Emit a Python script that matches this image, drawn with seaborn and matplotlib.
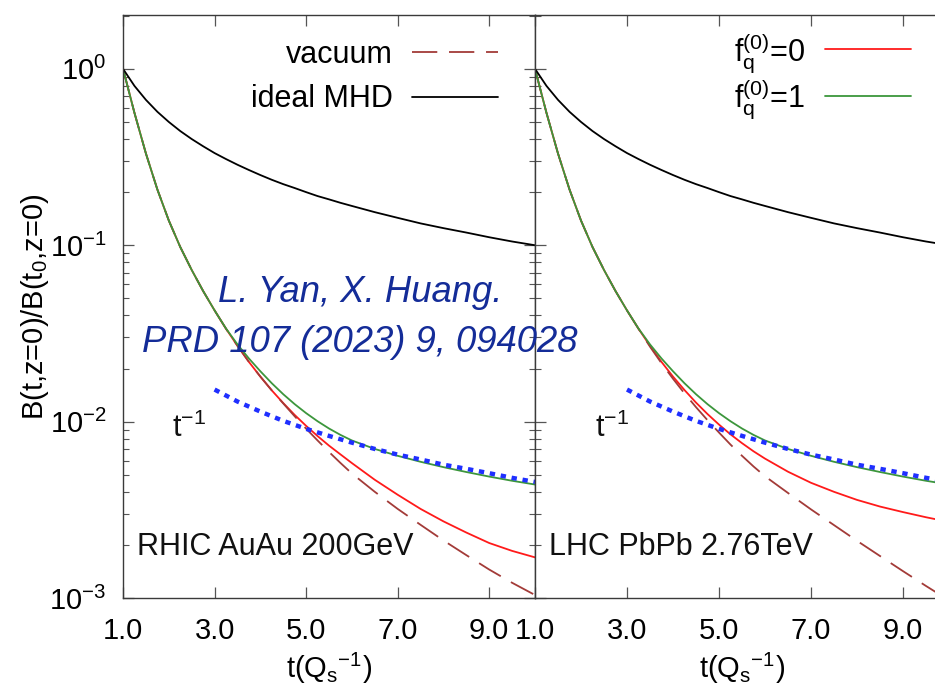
import matplotlib
matplotlib.use("Agg")
import matplotlib.pyplot as plt
from matplotlib.ticker import FixedLocator, FixedFormatter, LogLocator, NullFormatter
import pandas as pd
import seaborn as sns

# time grid in units of 1/Q_s (finer where the curves bend most)
t_grid = [1.0, 1.25, 1.5, 1.75, 2.0, 2.25, 2.5, 2.75, 3.0, 3.25, 3.5, 3.75, 4.0, 4.25,
          4.5, 4.75, 5.0, 5.25, 5.5, 5.75, 6.0, 6.5, 7.0, 7.5, 8.0, 8.5, 9.0, 9.5, 10.0]

# ideal MHD (same in both systems)
ideal_mhd = [1.0, 0.8, 0.667, 0.571, 0.5, 0.444, 0.4, 0.364, 0.333, 0.308, 0.286, 0.267, 0.25, 0.235,
             0.222, 0.211, 0.2, 0.190, 0.182, 0.174, 0.167, 0.154, 0.143, 0.133, 0.125, 0.118, 0.111, 0.105, 0.1]

# RHIC AuAu 200 GeV
rhic_vacuum = [1.0, 0.562, 0.331, 0.207, 0.138, 0.0977, 0.0724, 0.0550, 0.0427, 0.0336, 0.0269, 0.0218,
               0.0180, 0.01503, 0.01268, 0.01072, 0.00912, 0.00782, 0.00673, 0.00583, 0.00508, 0.0040,
               0.0032, 0.0026, 0.00212, 0.00175, 0.00145, 0.00122, 0.00104]
rhic_fq0 = [1.0, 0.562, 0.331, 0.207, 0.138, 0.0977, 0.0724, 0.0550, 0.0427, 0.0336, 0.0269, 0.0218,
            0.0180, 0.01503, 0.01274, 0.01091, 0.00946, 0.00828, 0.00731, 0.00652, 0.00582, 0.00468,
            0.00385, 0.0032, 0.00272, 0.00235, 0.00205, 0.00185, 0.0017]
rhic_fq1 = [1.0, 0.562, 0.331, 0.207, 0.138, 0.0977, 0.0724, 0.0550, 0.0427, 0.0337, 0.0274, 0.0228,
            0.0193, 0.0165, 0.0143, 0.01256, 0.01117, 0.01005, 0.00914, 0.00841, 0.00782, 0.00700,
            0.00640, 0.00592, 0.00552, 0.00518, 0.00488, 0.00462, 0.00440]

# LHC PbPb 2.76 TeV
lhc_vacuum = [1.0, 0.562, 0.331, 0.207, 0.138, 0.0977, 0.0724, 0.0550, 0.0427, 0.0336, 0.0266, 0.02143,
              0.0175, 0.01445, 0.01208, 0.01019, 0.00867, 0.00741, 0.0064, 0.00557, 0.0049, 0.00394,
              0.00318, 0.00259, 0.00211, 0.00173, 0.00142, 0.00117, 0.00097]
lhc_fq0 = [1.0, 0.562, 0.331, 0.207, 0.138, 0.0977, 0.0724, 0.0550, 0.0427, 0.0336, 0.0269, 0.0218,
           0.0180, 0.0151, 0.01282, 0.01104, 0.00962, 0.00847, 0.00755, 0.00679, 0.00617, 0.0052,
           0.0045, 0.0040, 0.0036, 0.0033, 0.00307, 0.00287, 0.0027]
lhc_fq1 = [1.0, 0.562, 0.331, 0.207, 0.138, 0.0977, 0.0724, 0.0550, 0.0427, 0.0337, 0.0274, 0.0228,
           0.0193, 0.0165, 0.0143, 0.01256, 0.01117, 0.01005, 0.00914, 0.00841, 0.00782, 0.00700,
           0.00640, 0.00592, 0.00552, 0.00518, 0.00488, 0.00462, 0.00440]

# t^-1 reference
t_power = [3.0, 3.5, 4.0, 4.5, 5.0, 5.5, 6.0, 6.5, 7.0, 7.5, 8.0, 8.5, 9.0, 9.5, 10.0]
power_law = [0.0152, 0.0130, 0.0114, 0.0101, 0.0091, 0.0083, 0.0076, 0.0070, 0.0065,
             0.0061, 0.0057, 0.0054, 0.0051, 0.0048, 0.00455]

x_ticks = [1.0, 3.0, 5.0, 7.0, 9.0]
x_tick_labels = ["1.0", "3.0", "5.0", "7.0", "9.0"]
y_ticks = [1e-3, 1e-2, 1e-1, 1e0]
y_tick_labels = [r"10$^{-3}$", r"10$^{-2}$", r"10$^{-1}$", r"10$^{0}$"]

panels = [
    ("RHIC AuAu 200GeV", rhic_vacuum, rhic_fq0, rhic_fq1, 2.07),
    ("LHC PbPb 2.76TeV", lhc_vacuum, lhc_fq0, lhc_fq1, 2.30),
]

sns.set_theme(style="ticks")
plt.rcParams.update({
    "font.family": ["Liberation Sans", "DejaVu Sans"],
    "mathtext.fontset": "custom",
    "mathtext.rm": "Liberation Sans",
    "mathtext.it": "Liberation Sans:italic",
    "mathtext.bf": "Liberation Sans:bold",
    "mathtext.default": "regular",
    "text.color": "black",
    "axes.labelcolor": "black",
    "axes.edgecolor": "#3a3a3a",
    "axes.linewidth": 1.0,
})

C_VAC = "#a33b38"
C_F0 = "#ff1a1a"
C_F1 = "#3c963c"
C_PL = "#1f2fff"
LW = 1.3

fig = plt.figure(figsize=(9.35, 6.94), dpi=100)
ax_l = fig.add_axes([0.1316, 0.1383, 0.4406, 0.8401])
ax_r = fig.add_axes([0.5722, 0.1383, 0.4428, 0.8401], sharey=ax_l)

handles = {}
for ax, (name, vac, f0, f1, t_label_x) in zip([ax_l, ax_r], panels):
    df = pd.DataFrame({"t": t_grid, "mhd": ideal_mhd, "vac": vac, "f0": f0, "f1": f1})
    sns.lineplot(data=df, x="t", y="f0", ax=ax, color=C_F0, lw=LW, errorbar=None, legend=False)
    handles["f0"] = ax.get_lines()[-1]
    sns.lineplot(data=df, x="t", y="vac", ax=ax, color=C_VAC, lw=LW, errorbar=None, legend=False,
                 linestyle=(0, (14, 6.5)))
    handles["vac"] = ax.get_lines()[-1]
    sns.lineplot(data=df, x="t", y="f1", ax=ax, color=C_F1, lw=LW, errorbar=None, legend=False)
    handles["f1"] = ax.get_lines()[-1]
    sns.lineplot(data=df, x="t", y="mhd", ax=ax, color="black", lw=LW, errorbar=None, legend=False)
    handles["mhd"] = ax.get_lines()[-1]
    sns.lineplot(x=t_power, y=power_law, ax=ax, color=C_PL, lw=3.2, errorbar=None, legend=False,
                 linestyle=(0, (1.2, 1.3)))

    ax.set_yscale("log")
    ax.set_xlim(1.0, 10.0)
    ax.set_ylim(1e-3, 2.02)
    ax.xaxis.set_major_locator(FixedLocator(x_ticks))
    ax.xaxis.set_major_formatter(FixedFormatter(x_tick_labels))
    ax.yaxis.set_major_locator(FixedLocator(y_ticks))
    ax.yaxis.set_major_formatter(FixedFormatter(y_tick_labels))
    ax.yaxis.set_minor_locator(LogLocator(base=10, subs=range(2, 10)))
    ax.yaxis.set_minor_formatter(NullFormatter())
    ax.tick_params(which="both", direction="in", top=True, right=True,
                   color="#555555", labelcolor="black", labelsize=21)
    ax.tick_params(which="major", length=8, width=0.9)
    ax.tick_params(which="minor", length=4.5, width=0.8)
    ax.tick_params(axis="x", pad=14)
    ax.tick_params(axis="y", pad=12)
    ax.set_xlabel(r"t(Q$_{s}{}^{-1}$)", fontsize=21, labelpad=4)
    ax.set_ylabel("")
    ax.text(0.034, 0.074, name, transform=ax.transAxes, fontsize=22,
            ha="left", va="baseline", color="#111111")
    ax.text(t_label_x, 0.0082, r"t$^{-1}$", fontsize=22,
            ha="left", va="baseline", color="#111111")
    for s in ax.spines.values():
        s.set_color("#3a3a3a")

ax_r.tick_params(axis="y", which="both", labelleft=False)
ax_l.set_ylabel(r"B(t,z=0)/B(t$_{0}$,z=0)", fontsize=21, labelpad=-1)

leg_kw = dict(loc="upper right", frameon=False, markerfirst=False, handlelength=2.8,
              handletextpad=0.65, borderpad=0, borderaxespad=0, fontsize=22)
ax_l.legend(handles=[handles["vac"], handles["mhd"]], labels=["vacuum", "ideal MHD"],
            bbox_to_anchor=(0.91, 0.957), labelspacing=0.47, **leg_kw)
ax_r.legend(handles=[handles["f0"], handles["f1"]],
            labels=[r"f$_{q}^{(0)}$=0", r"f$_{q}^{(0)}$=1"],
            bbox_to_anchor=(0.908, 0.973), labelspacing=0.1, **leg_kw)

fig.text(0.385, 1 - 301.7 / 694, "L. Yan, X. Huang.", fontsize=26.3, fontstyle="italic",
         color="#142c98", ha="center", va="baseline")
fig.text(0.385, 1 - 351.7 / 694, "PRD 107 (2023) 9, 094028", fontsize=26.3, fontstyle="italic",
         color="#142c98", ha="center", va="baseline")

fig.savefig("out.png", dpi=100)
